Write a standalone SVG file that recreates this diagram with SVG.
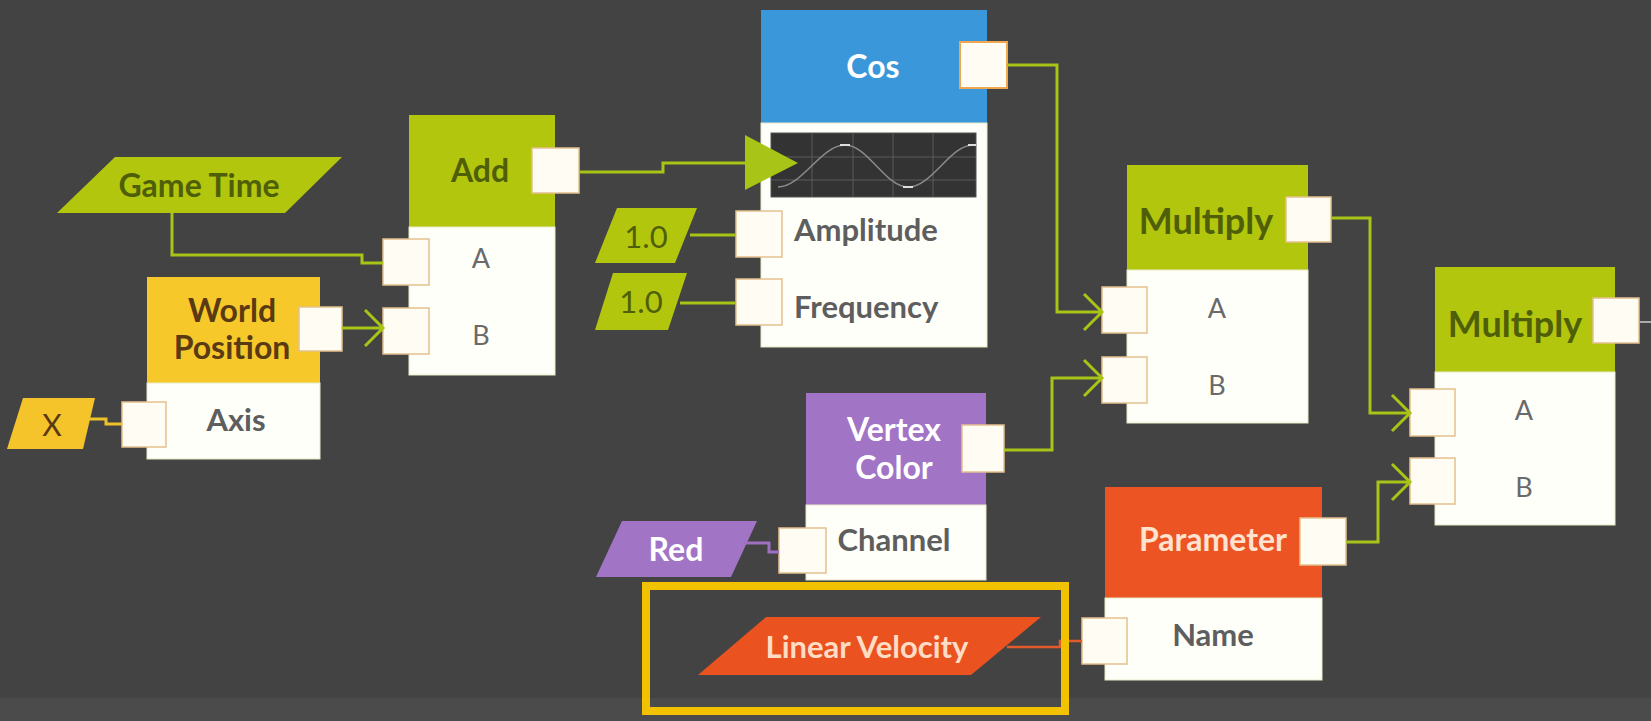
<svg xmlns="http://www.w3.org/2000/svg" width="1651" height="721" viewBox="0 0 1651 721">
<defs>
<style>
.body{fill:#fffffa;stroke:#e6e9c6;stroke-width:1}
.port{fill:#fffdf3;stroke:#e3c08e;stroke-width:1.5}
.t{font-family:Lato,"Liberation Sans",sans-serif;text-anchor:middle}
.title{font-size:32px;font-weight:700}
.mul{font-size:36px;font-weight:700}
.lbl{font-family:Lato,"Liberation Sans",sans-serif;font-size:31px;font-weight:700;fill:#5e5e5e}
.ab{font-size:27px;font-weight:400;fill:#6a6a6a}
.olive{fill:#4f5f08}
.hg{fill:#b3c60e}
.wire{fill:none;stroke:#a8c416;stroke-width:3}
</style>
<marker id="chev" markerUnits="userSpaceOnUse" markerWidth="24" markerHeight="40" refX="20" refY="18" orient="auto" overflow="visible">
<path d="M2,0 L20,18 L2,36" fill="none" stroke="#a8c416" stroke-width="3"/>
</marker>
</defs>
<rect x="0" y="0" width="1651" height="721" fill="#434343"/>
<rect x="0" y="698" width="1651" height="23" fill="#4b4b4b"/>

<g id="game-time">
<polygon points="57,213 115,157 342,157 285,213" class="hg"/>
<text x="199" y="197" class="t title olive">Game Time</text>
</g>

<g id="add">
<rect x="409" y="115" width="146" height="112" class="hg"/>
<rect x="409" y="227" width="146" height="148" class="body"/>
<text x="480" y="182" class="t title olive">Add</text>
<rect x="532" y="148" width="47" height="45" class="port"/>
<rect x="383" y="239" width="46" height="46" class="port"/>
<rect x="383" y="308" width="46" height="46" class="port"/>
<text x="481" y="268" class="t ab">A</text>
<text x="481" y="345" class="t ab">B</text>
</g>

<g id="world-position">
<rect x="147" y="277" width="173" height="106" fill="#f7c82a"/>
<rect x="147" y="383" width="173" height="76" class="body"/>
<text x="232" y="322" class="t title" fill="#5a3a12">World</text>
<text x="232" y="359" class="t title" fill="#5a3a12">Position</text>
<rect x="299" y="307" width="43" height="44" class="port"/>
<rect x="122" y="402" width="44" height="45" class="port"/>
<text x="236" y="431" class="lbl" text-anchor="middle">Axis</text>
</g>

<g id="axis-x">
<polygon points="23,398 95,398 83,449 7,449" fill="#f5c42a"/>
<text x="52" y="436" class="t" font-size="30" fill="#5a3a12">X</text>
</g>

<g id="cos">
<rect x="761" y="10" width="226" height="113" fill="#3a98da"/>
<rect x="761" y="123" width="226" height="224" class="body"/>
<text x="873" y="78" class="t title" fill="#ffffff">Cos</text>
<rect x="960" y="42" width="47" height="46" fill="#fffdf3" stroke="#f0a850" stroke-width="2"/>
<g id="cos-graph">
<rect x="771" y="133" width="205" height="64" fill="#333333" stroke="#555" stroke-width="1"/>
<g stroke="#5c5c5c" stroke-width="1">
<line x1="812" y1="133" x2="812" y2="197"/>
<line x1="853" y1="133" x2="853" y2="197"/>
<line x1="893" y1="133" x2="893" y2="197"/>
<line x1="933" y1="133" x2="933" y2="197"/>
<line x1="771" y1="157" x2="976" y2="157"/>
<line x1="771" y1="180" x2="976" y2="180"/>
</g>
<path d="M778,187 C802,187 821,145 845,145 C868,145 885,187 908,187 C932,187 950,145 973,145" fill="none" stroke="#8a8a8a" stroke-width="1.5"/>
<g stroke="#dddddd" stroke-width="2">
<line x1="840" y1="145" x2="850" y2="145"/>
<line x1="903" y1="187" x2="913" y2="187"/>
<line x1="968" y1="145" x2="976" y2="145"/>
</g>
</g>
<rect x="736" y="211" width="46" height="46" class="port"/>
<rect x="736" y="279" width="46" height="46" class="port"/>
<text x="794" y="241" class="lbl">Amplitude</text>
<text x="794" y="318" class="lbl">Frequency</text>
</g>

<g id="amplitude-value">
<polygon points="595,263 617,208 697,208 675,263" class="hg"/>
<text x="646" y="248" class="t olive" font-size="31">1.0</text>
</g>

<g id="frequency-value">
<polygon points="595,330 613,273 687,273 668,330" class="hg"/>
<text x="641" y="313" class="t olive" font-size="31">1.0</text>
</g>

<g id="multiply-1">
<rect x="1127" y="165" width="181" height="105" class="hg"/>
<rect x="1127" y="270" width="181" height="153" class="body"/>
<text x="1206" y="234" class="t mul olive">Multiply</text>
<rect x="1286" y="197" width="45" height="45" class="port"/>
<rect x="1102" y="287" width="45" height="46" class="port"/>
<rect x="1102" y="357" width="45" height="46" class="port"/>
<text x="1217" y="318" class="t ab">A</text>
<text x="1217" y="395" class="t ab">B</text>
</g>

<g id="multiply-2">
<rect x="1435" y="267" width="180" height="105" class="hg"/>
<rect x="1435" y="372" width="180" height="153" class="body"/>
<text x="1515" y="337" class="t mul olive">Multiply</text>
<rect x="1593" y="298" width="46" height="45" class="port"/>
<rect x="1410" y="389" width="45" height="47" class="port"/>
<rect x="1410" y="458" width="45" height="46" class="port"/>
<text x="1524" y="420" class="t ab">A</text>
<text x="1524" y="497" class="t ab">B</text>
</g>

<g id="vertex-color">
<rect x="806" y="393" width="180" height="112" fill="#a274c6"/>
<rect x="806" y="505" width="180" height="75" class="body"/>
<text x="894" y="441" class="t title" fill="#ffffff">Vertex</text>
<text x="894" y="479" class="t title" fill="#ffffff">Color</text>
<rect x="962" y="425" width="42" height="47" class="port"/>
<rect x="779" y="528" width="47" height="45" class="port"/>
<text x="894" y="551" class="lbl" text-anchor="middle">Channel</text>
</g>

<g id="channel-red">
<polygon points="596,577 622,521 757,521 731,577" fill="#a274c6"/>
<text x="676" y="561" class="t title" fill="#ffffff">Red</text>
</g>

<g id="parameter">
<rect x="1105" y="487" width="217" height="111" fill="#ec5424"/>
<rect x="1105" y="598" width="217" height="82" class="body"/>
<text x="1213" y="551" class="t title" fill="#ffe2cf">Parameter</text>
<rect x="1300" y="518" width="46" height="47" class="port"/>
<rect x="1082" y="618" width="45" height="46" class="port"/>
<text x="1213" y="646" class="lbl" text-anchor="middle">Name</text>
</g>

<g id="linear-velocity">
<polygon points="698,675 766,617 1041,617 971,675" fill="#ea5220"/>
<text x="867" y="658" class="t" font-size="31" font-weight="700" fill="#ffdcc4">Linear Velocity</text>
</g>

<g id="connectors">
<path class="wire" d="M172,213 V255 H362 V263 H383"/>
<path class="wire" d="M342,328 H383" marker-end="url(#chev)"/>
<path d="M88,419 H106 V424 H122" fill="none" stroke="#f0c22a" stroke-width="3"/>
<path class="wire" d="M579,172 H663 V163 H748"/>
<polygon points="745,135 798,163 745,190" fill="#a8c416"/>
<path class="wire" d="M690,235 H736"/>
<path class="wire" d="M680,303 H736"/>
<path class="wire" d="M1007,65 H1057 V312 H1102" marker-end="url(#chev)"/>
<path class="wire" d="M1004,450 H1052 V378 H1102" marker-end="url(#chev)"/>
<path class="wire" d="M1331,218 H1370 V413 H1410" marker-end="url(#chev)"/>
<path class="wire" d="M1346,542 H1378 V482 H1410" marker-end="url(#chev)"/>
<path d="M744,543 H769 V552 H779" fill="none" stroke="#a070c0" stroke-width="3"/>
<path d="M1007,647 H1060 V641 H1082" fill="none" stroke="#e25a2a" stroke-width="2.5"/>
<path d="M1639,322 H1651" fill="none" stroke="#aaaaaa" stroke-width="2"/>
</g>

<g id="highlight">
<rect x="646" y="586" width="419" height="125" fill="none" stroke="#f2c200" stroke-width="8"/>
</g>
</svg>
